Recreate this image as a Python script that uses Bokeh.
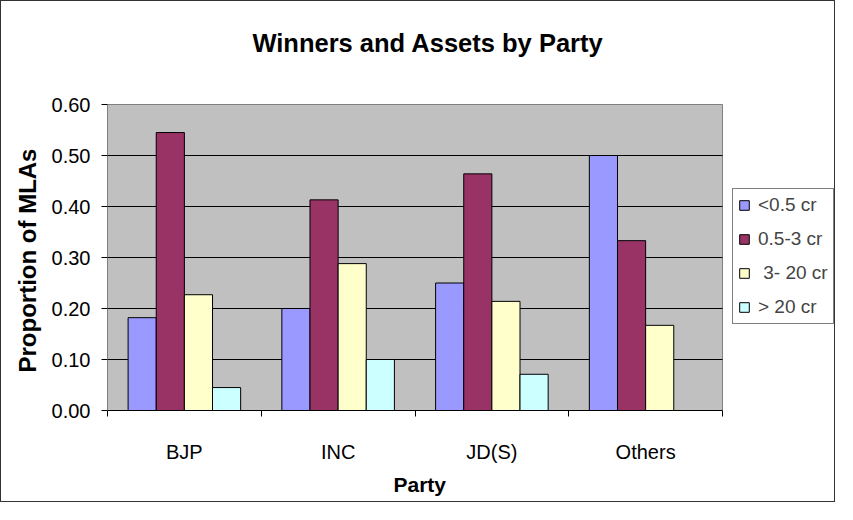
from bokeh.plotting import figure
from bokeh.models import (Range1d, LinearAxis, FixedTicker, Label, Title,
                          NumeralTickFormatter, Legend, LegendItem, ColumnDataSource)
from bokeh.transform import dodge
from bokeh.embed import file_html
from bokeh.resources import INLINE

parties = ["BJP", "INC", "JD(S)", "Others"]
series_names = ["<0.5 cr", "0.5-3 cr", " 3- 20 cr", "> 20 cr"]
lt_05 = [0.182, 0.200, 0.250, 0.500]
b05_3 = [0.545, 0.413, 0.464, 0.333]
b3_20 = [0.227, 0.288, 0.214, 0.167]
gt_20 = [0.045, 0.100, 0.071, 0.000]
y_ticks = [0.0, 0.1, 0.2, 0.3, 0.4, 0.5, 0.6]
colors = ["#9999FF", "#993366", "#FFFFCC", "#CCFFFF"]
title_text = "Winners and Assets by Party"
x_title = "Party"
y_title = "Proportion of MLAs"

FONT = "Liberation Sans"
n = len(parties)
ymax = y_ticks[-1]

centers = [i + 0.5 for i in range(n)]
bounds = list(range(n + 1))
src = ColumnDataSource(dict(xc=centers, party=parties, s0=lt_05, s1=b05_3, s2=b3_20, s3=gt_20))

# frame spans plot area + room for legend (right) and title (top)
p = figure(x_range=Range1d(0, n * 729 / 615), y_range=Range1d(0, ymax * 409 / 306),
           width=835, height=502,
           min_border_left=106, min_border_right=0, min_border_top=0, min_border_bottom=93,
           output_backend="svg", toolbar_location=None, x_axis_location=None)

p.styles = {"border": "1px solid #333333"}
p.background_fill_color = "white"
p.border_fill_color = "white"
p.outline_line_color = None
p.xgrid.grid_line_color = None
p.ygrid.grid_line_color = None

# plot area
p.quad(left=[0], right=[n], bottom=[y_ticks[0]], top=[ymax],
       fill_color="#C0C0C0", line_color="#808080", line_width=1)
# gridlines
p.segment(x0=[0] * (len(y_ticks) - 2), x1=[n] * (len(y_ticks) - 2),
          y0=y_ticks[1:-1], y1=y_ticks[1:-1], line_color="black", line_width=1)

bw = 0.183
offsets = [-1.5 * bw, -0.5 * bw, 0.5 * bw, 1.5 * bw]
renderers = []
for i, col in enumerate(["s0", "s1", "s2", "s3"]):
    r = p.vbar(x=dodge("xc", offsets[i]), top=col, width=bw, source=src,
               fill_color=colors[i], line_color="black", line_width=1)
    renderers.append(r)

# chart title
p.add_layout(Label(x=n / 2, y=ymax, x_offset=13, y_offset=62,
                   text=title_text, text_font=FONT, text_font_size="25.5px",
                   text_font_style="bold", text_color="black",
                   text_align="center", text_baseline="alphabetic"))

# y axis
yax = p.yaxis[0]
yax.bounds = (y_ticks[0], ymax)
yax.ticker = FixedTicker(ticks=y_ticks)
yax.formatter = NumeralTickFormatter(format="0.00")
yax.major_label_text_font = FONT
yax.major_label_text_font_size = "20px"
yax.major_label_text_color = "black"
yax.major_tick_out = 6
yax.major_tick_in = 0
yax.minor_tick_line_color = None
yax.major_tick_line_color = "black"
yax.axis_line_color = "#808080"
yax.major_label_standoff = 11

p.add_layout(Title(text=y_title, align="left", offset=38, standoff=16,
                   vertical_align="bottom", text_font=FONT, text_font_size="24px",
                   text_font_style="bold", text_color="black"), "left")

# x axis: category labels at centers, tick marks at category boundaries
xax = LinearAxis(ticker=FixedTicker(ticks=centers, minor_ticks=bounds), bounds=(0, n),
                 major_label_overrides={c: name for c, name in zip(centers, parties)},
                 axis_line_color="black",
                 major_tick_line_color=None, major_tick_out=0, major_tick_in=0,
                 minor_tick_line_color="black", minor_tick_out=6, minor_tick_in=0,
                 major_label_text_font=FONT, major_label_text_font_size="20px",
                 major_label_text_color="black", major_label_standoff=24)
p.add_layout(xax, "below")

p.add_layout(Title(text=x_title, align="left", offset=286, standoff=10,
                   vertical_align="bottom", text_font=FONT, text_font_size="21px",
                   text_font_style="bold", text_color="black"), "below")

legend = Legend(items=[LegendItem(label=series_names[i], renderers=[renderers[i]]) for i in range(4)],
                location=(625, 86), orientation="vertical",
                label_text_font=FONT, label_text_font_size="19px",
                glyph_width=12, glyph_height=12, label_standoff=8, spacing=12,
                padding=5, margin=0, border_line_color="black", border_line_width=1,
                background_fill_color="white", background_fill_alpha=1)
p.add_layout(legend, "center")

open("out.html", "w").write(file_html(p, INLINE))
